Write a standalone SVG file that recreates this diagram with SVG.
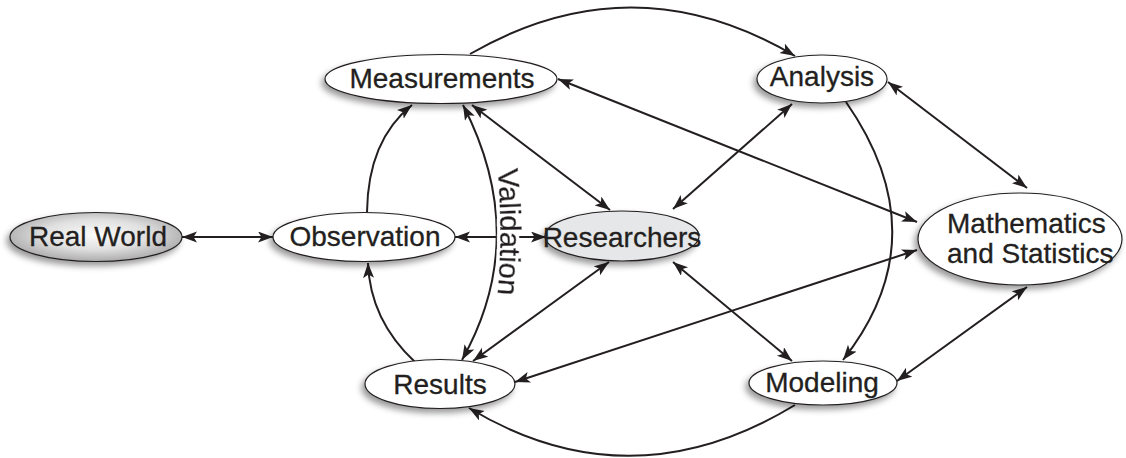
<svg xmlns="http://www.w3.org/2000/svg" xmlns:xlink="http://www.w3.org/1999/xlink" width="1126" height="458" viewBox="0 0 1126 458">
<style>
.edge{fill:none;stroke:#231f20;stroke-width:2}
.bi{marker-start:url(#ah);marker-end:url(#ah)}
.one{marker-end:url(#ah)}
.node ellipse{stroke:#231f20;stroke-width:1.2;filter:url(#sh)}
.lbl{font-family:"Liberation Sans",Arial,sans-serif;font-size:28px;fill:#231f20;text-anchor:middle;stroke:#231f20;stroke-width:0.3}
.val{font-family:"Liberation Sans",Arial,sans-serif;font-size:29px;fill:#231f20;text-anchor:middle;stroke:#231f20;stroke-width:0.6;filter:url(#halo)}
</style>
<defs>
<marker id="ah" markerUnits="userSpaceOnUse" markerWidth="16" markerHeight="12" refX="15" refY="5.5" orient="auto-start-reverse" viewBox="0 0 16 12">
<path d="M0,0 L15,5.5 L0,11 L3.5,5.5 z" fill="#231f20"/>
</marker>
<filter id="sh" x="-20%" y="-30%" width="140%" height="170%">
<feDropShadow dx="-3" dy="4" stdDeviation="3" flood-color="#000" flood-opacity="0.4"/>
</filter>
<filter id="halo" x="-30%" y="-30%" width="160%" height="160%">
<feMorphology in="SourceAlpha" operator="dilate" radius="3" result="d"/>
<feFlood flood-color="#fff"/>
<feComposite in2="d" operator="in" result="w"/>
<feMerge><feMergeNode in="w"/><feMergeNode in="SourceGraphic"/></feMerge>
</filter>
<radialGradient id="gRW" cx="50%" cy="45%" r="55%">
<stop offset="0" stop-color="#fbfbfb"/>
<stop offset="0.55" stop-color="#e0e0e0"/>
<stop offset="1" stop-color="#ababab"/>
</radialGradient>
<path id="valText" d="M489,108 Q512,232 489,356"/>
</defs>
<rect width="1126" height="458" fill="#fff"/>
<g id="connectors">
<line class="edge bi" x1="182" y1="237" x2="273" y2="237"/>
<path class="edge one" d="M367,212 Q368,140 412,105"/>
<path class="edge one" d="M415,362 Q370,320 368,263"/>
<path class="edge bi" d="M463,105 Q531,237 462,360"/>
<line class="edge bi" x1="455" y1="237" x2="546" y2="237"/>
<line class="edge bi" x1="472" y1="105" x2="610" y2="210"/>
<path class="edge one" d="M470,54 Q633,-40 795,56"/>
<line class="edge bi" x1="558" y1="79" x2="917" y2="222"/>
<line class="edge bi" x1="792" y1="104" x2="673" y2="209"/>
<line class="edge bi" x1="888" y1="82" x2="1027" y2="188"/>
<path class="edge one" d="M846,102 Q940,237 843,360"/>
<line class="edge bi" x1="609" y1="262" x2="473" y2="361"/>
<line class="edge bi" x1="673" y1="262" x2="792" y2="361"/>
<line class="edge bi" x1="515" y1="382" x2="917" y2="250"/>
<line class="edge bi" x1="897" y1="381" x2="1027" y2="287"/>
<path class="edge one" d="M795,405 Q630,505 469,408"/>
</g>
<g id="real-world" class="node">
<ellipse cx="96" cy="237" rx="86" ry="24.5" fill="url(#gRW)"/>
<text class="lbl" x="98" y="246">Real World</text>
</g>
<g id="observation" class="node">
<ellipse cx="364" cy="237" rx="91" ry="24.5" fill="#fff"/>
<text class="lbl" x="365" y="246">Observation</text>
</g>
<g id="measurements" class="node">
<ellipse cx="441" cy="79" rx="116" ry="24.5" fill="#fff"/>
<text class="lbl" x="442" y="88">Measurements</text>
</g>
<g id="analysis" class="node">
<ellipse cx="822" cy="79" rx="65" ry="24" fill="#fff"/>
<text class="lbl" x="822" y="86">Analysis</text>
</g>
<g id="researchers" class="node">
<ellipse cx="622" cy="236" rx="77" ry="25" fill="#e6e7e8"/>
<text class="lbl" x="622" y="247">Researchers</text>
</g>
<g id="math-stats" class="node">
<ellipse cx="1020" cy="239" rx="102" ry="46" fill="#fff"/>
<text class="lbl" x="947" y="233" style="text-anchor:start">Mathematics</text>
<text class="lbl" x="947" y="263" style="text-anchor:start">and Statistics</text>
</g>
<g id="results" class="node">
<ellipse cx="440" cy="384" rx="75" ry="24.5" fill="#fff"/>
<text class="lbl" x="440" y="394">Results</text>
</g>
<g id="modeling" class="node">
<ellipse cx="823" cy="383" rx="74" ry="22" fill="#fff"/>
<text class="lbl" x="822" y="392">Modeling</text>
</g>
<g id="validation-label">
<text class="val"><textPath xlink:href="#valText" href="#valText" startOffset="50%">Validation</textPath></text>
</g>
</svg>
